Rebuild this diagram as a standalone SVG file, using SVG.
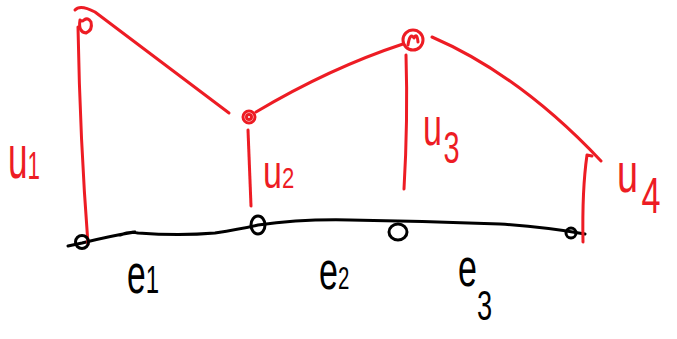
<svg xmlns="http://www.w3.org/2000/svg" width="677" height="339" viewBox="0 0 677 339">
<style>
.r{fill:none;stroke:#ed1c24;stroke-width:3;stroke-linecap:round;stroke-linejoin:round}
.k{fill:none;stroke:#000;stroke-width:3;stroke-linecap:round;stroke-linejoin:round}
.lr{font-family:"Liberation Sans",Arial,sans-serif;fill:#ed1c24}
.lk{font-family:"Liberation Sans",Arial,sans-serif;fill:#000}
</style>
<rect width="677" height="339" fill="#fff"/>
<g id="connectors">
<path class="k" d="M68,246 L82,243 Q110,236 135,232 M120,235 Q130,231 138,233 Q180,236 215,233 Q240,229 258,225 Q300,219 350,220 Q420,221 500,224 Q545,227 585,234"/>
<path class="r" d="M75,10 Q80,4 95,12 L229,113"/>
<path class="r" d="M78,27 Q80,140 88,244"/>
<path class="r" d="M248,130 L251,206"/>
<path class="r" d="M256,112 Q330,68 403,44"/>
<path class="r" d="M406,55 Q408,120 404,189"/>
<path class="r" d="M432,37 Q520,75 601,161"/>
<path class="r" d="M583,242 Q582,190 587,155 L592,156"/>
</g>
<g id="n1"><path class="r" d="M80,20 Q78,32 86,33 Q93,30 91,22 Q88,17 84,20 Q82,22 80,20"/></g>
<g id="n2"><circle class="r" cx="249" cy="117" r="6"/><circle class="r" cx="249" cy="117" r="2.5"/></g>
<g id="n3"><circle class="r" cx="413" cy="40" r="10"/><path class="r" d="M408,45 Q410,32 414,38 Q417,32 418,42"/></g>
<g id="b1"><circle class="k" cx="82" cy="242" r="6.5"/></g>
<g id="b2"><ellipse class="k" cx="258" cy="225" rx="7" ry="9"/></g>
<g id="b3"><ellipse class="k" cx="398" cy="232" rx="9" ry="8"/></g>
<g id="b4"><circle class="k" cx="571" cy="233" r="5"/></g>
<g id="labels">
<text class="lr" font-size="44" transform="translate(8,178) scale(0.8,1.4)">u<tspan font-size="28" dy="1">1</tspan></text>
<text class="lr" font-size="40" transform="translate(263,188) scale(0.85,1.15)">u<tspan font-size="26">2</tspan></text>
<text class="lr" font-size="40" transform="translate(423,145) scale(0.85,1.3)">u<tspan font-size="34" dx="2" dy="14">3</tspan></text>
<text class="lr" font-size="42" transform="translate(617,192) scale(0.9,1.3)">u<tspan font-size="38" dx="4" dy="16">4</tspan></text>
<text class="lk" font-size="42" transform="translate(127,293) scale(0.8,1.3)">e<tspan font-size="30">1</tspan></text>
<text class="lk" font-size="40" transform="translate(319,289) scale(0.85,1.3)">e<tspan font-size="24">2</tspan></text>
<text class="lk" font-size="40" transform="translate(458,286) scale(0.85,1.3)">e<tspan font-size="32" dx="0" dy="26">3</tspan></text>
</g>
</svg>
